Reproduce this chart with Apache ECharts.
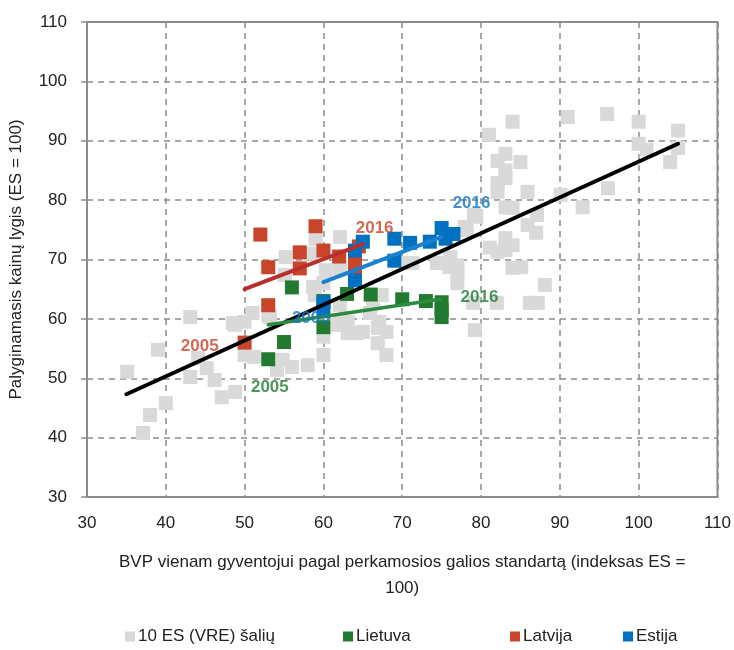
<!DOCTYPE html>
<html>
<head>
<meta charset="utf-8">
<script src="https://cdn.jsdelivr.net/npm/echarts@6/dist/echarts.min.js"></script>
<style>
  html, body { margin: 0; padding: 0; background: #fff; }
  #main { width: 734px; height: 650px; }
</style>
</head>
<body>
<div id="main"></div>
<script>
// 10 ES (VRE) šalių, 2005–2016: [BVP PGS, kainų lygis]
var greyPoints = [
  [35.1, 51.1], [37.1, 40.8], [38, 43.8], [39, 54.8], [40, 45.8], [43.1, 60.3], [43.1, 50.2],
  [44.1, 53.4], [45.2, 51.7], [46.2, 49.7], [47.1, 46.8], [48.8, 47.7], [48.8, 59], [48.5, 59.3],
  [50, 59.5], [51, 61], [50, 53.9], [51.2, 53.6], [53, 60.6], [53.2, 60.3], [54.1, 51.4],
  [54.8, 53.1], [56, 51.9], [58, 52.2], [60, 53.9], [60, 57], [55.2, 70.4], [55.1, 67.4],
  [58.3, 71], [59, 73.5], [62.1, 73.8], [60.3, 68.2], [60, 66], [58.7, 65.4], [58.9, 64],
  [62.1, 68.5], [62.1, 62.3], [62.1, 59.8], [61.8, 59], [63.1, 57.6], [63.1, 59.5], [64.2, 57.6],
  [65, 57.8], [66.3, 63.2], [65.9, 61], [67.1, 59.5], [66.9, 58.5], [68, 57.8], [66.9, 55.9],
  [68, 53.9], [67.4, 64], [71.3, 69.4], [70.5, 69.4], [74.4, 69.4], [76, 69.4], [76.1, 70.4],
  [77, 67.4], [77, 66], [76, 68.7], [77, 69], [79.2, 58.1], [79, 62.7], [82, 62.7], [86.2, 62.7],
  [87.2, 62.7], [88.1, 65.7], [84, 68.6], [85.1, 68.7], [82.1, 71.3], [83.1, 71.6], [81.1, 72],
  [83.1, 73.6], [84, 72.4], [85.9, 75.8], [87, 74.5], [78.2, 75], [77.9, 75.5], [79.4, 77.2],
  [79.1, 77.5], [83.1, 78.8], [84, 78.7], [87.1, 77.5], [92.9, 78.8], [96.1, 82], [90.1, 80.9],
  [85.9, 81.4], [82.1, 81.4], [82.1, 82.9], [83.1, 83.7], [83.1, 85], [85, 86.4], [82.1, 86.6],
  [83.1, 87.8], [81, 91], [84, 93.2], [91, 94], [96, 94.5], [100, 93.2], [105, 91.7], [100, 89.5],
  [101, 88.5], [105, 88.8], [104, 86.4]
];
var ltPoints = [
  [53, 53.2], [55, 56.1], [56, 65.3], [60, 58.6], [60, 63], [63, 64.2],
  [66, 64.1], [70, 63.3], [73, 63], [75, 62.8], [75, 60.3], [75, 61.5]
];
var lvPoints = [
  [50, 56], [53, 62.3], [53, 68.7], [52, 74.2], [57, 71.2], [57, 68.5],
  [59, 75.6], [60, 71.5], [62, 70.5], [64, 69.5], [64.5, 72.2], [64, 68.2]
];
var eePoints = [
  [60, 62.8], [60, 61.3], [64, 66.5], [64, 71.5], [65, 73], [69, 69.8],
  [69, 73.5], [71, 72.8], [73.5, 73], [75, 75.3], [75.5, 73.5], [76.5, 74.3]
];
// tendencijų linijos
var trendAll = [[35, 47.3], [105, 89.5]];
var trendLt = [[53, 59], [74.8, 63.3]];
var trendLv = [[50, 65], [65, 72.6]];
var trendEe = [[60, 66.2], [75, 73.8]];
// metų žymės
var yearLabels = [
  { name: '2005', coord: [44.3, 55.3], color: '#c8442a' },
  { name: '2016', coord: [66.5, 75.3], color: '#c8442a' },
  { name: '2005', coord: [58.4, 60.1], color: '#0f74c4' },
  { name: '2016', coord: [78.8, 79.5], color: '#0f74c4' },
  { name: '2005', coord: [53.2, 48.5], color: '#1f7a2f' },
  { name: '2016', coord: [79.8, 63.7], color: '#1f7a2f' }
];
var legendNames = ['10 ES (VRE) šalių', 'Lietuva', 'Latvija', 'Estija'];
var legendLeft = [120, 338, 505, 618];

var FONT = '"Liberation Sans", Arial, sans-serif';
var chart = echarts.init(document.getElementById('main'));

function scatter(name, data, color) {
  return {
    name: name, type: 'scatter', data: data, symbol: 'rect', symbolSize: 14,
    itemStyle: { color: color, opacity: 1 }
  };
}
function trend(data, color, width) {
  return {
    type: 'line', data: data, symbol: 'none', silent: true,
    lineStyle: { color: color, width: width, cap: 'round' }
  };
}

var labelSeries = {
  type: 'scatter', symbolSize: 0, silent: true, z: 10,
  data: yearLabels.map(function (l) {
    return {
      value: l.coord,
      label: { show: true, formatter: l.name, color: l.color, position: 'inside',
        fontFamily: FONT, fontWeight: 'bold', fontSize: 17 }
    };
  })
};

chart.setOption({
  textStyle: { fontFamily: FONT },
  animation: false,
  grid: { left: 87, top: 22, right: 16, bottom: 153, show: true, borderColor: '#8c8c8c', borderWidth: 2 },
  legend: legendNames.map(function (n, i) {
    return {
      data: [n], left: legendLeft[i], bottom: 0, itemWidth: 10, itemHeight: 10, icon: 'rect',
      textStyle: { fontFamily: FONT, fontSize: 17, color: '#222', padding: [0, 0, 0, -2] }
    };
  }),
  xAxis: {
    type: 'value', min: 30, max: 110, interval: 10,
    name: 'BVP vienam gyventojui pagal perkamosios galios standartą (indeksas ES =\n100)',
    nameLocation: 'middle', nameGap: 52,
    nameTextStyle: { fontFamily: FONT, fontSize: 17, color: '#222', lineHeight: 26 },
    axisLine: { lineStyle: { color: '#8c8c8c', width: 2 } },
    axisTick: { show: false },
    axisLabel: { fontFamily: FONT, fontSize: 17, color: '#222', margin: 18 },
    splitLine: { lineStyle: { color: '#8c8c8c', type: [6, 5], width: 1.5 } }
  },
  yAxis: {
    type: 'value', min: 30, max: 110, interval: 10,
    name: 'Palyginamasis kainų lygis (ES = 100)',
    nameLocation: 'middle', nameGap: 62,
    nameTextStyle: { fontFamily: FONT, fontSize: 17, color: '#222' },
    axisLine: { show: true, lineStyle: { color: '#8c8c8c', width: 2 } },
    axisTick: { show: true, length: 6, lineStyle: { color: '#8c8c8c', width: 1.5 } },
    axisLabel: { fontFamily: FONT, fontSize: 17, color: '#222', margin: 20 },
    splitLine: { lineStyle: { color: '#8c8c8c', type: [6, 5], width: 1.5 } }
  },
  series: [
    scatter(legendNames[0], greyPoints, '#d9d9d9'),
    scatter(legendNames[1], ltPoints, '#217a30'),
    scatter(legendNames[2], lvPoints, '#c8442a'),
    scatter(legendNames[3], eePoints, '#0070c0'),
    trend(trendAll, '#000000', 4),
    trend(trendLt, '#2e8a3c', 3.5),
    trend(trendLv, '#b8302e', 4),
    trend(trendEe, '#1a80d0', 4),
    labelSeries
  ]
});
</script>
</body>
</html>
